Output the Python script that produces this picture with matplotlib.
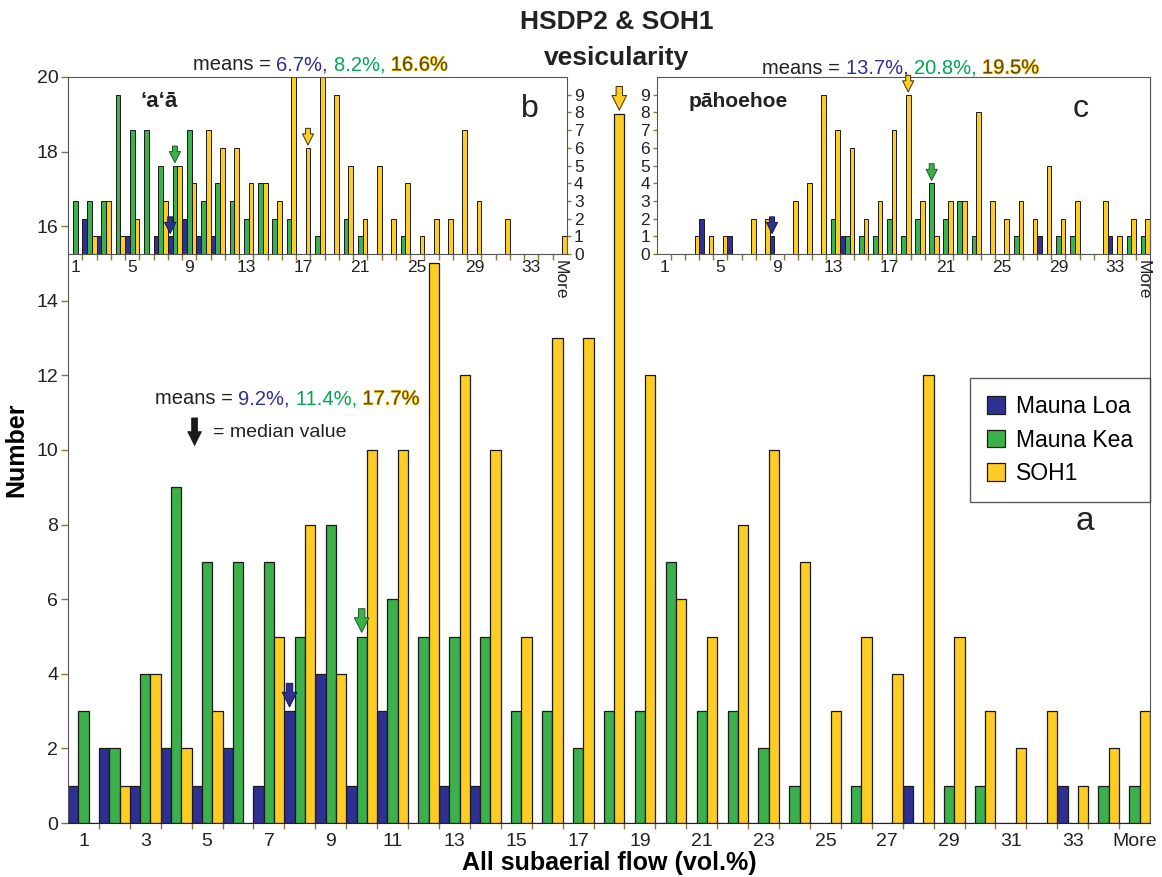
import matplotlib
matplotlib.use('Agg')
import numpy as np
import matplotlib.pyplot as plt
import matplotlib.patheffects as pe
from matplotlib.patches import Patch

plt.rcParams['font.family'] = ['Liberation Sans', 'DejaVu Sans']

# ---- data -------------------------------------------------------------
cats = [str(i) for i in range(1, 35)] + ['More']
series = ['Mauna Loa', 'Mauna Kea', 'SOH1']

# a: all subaerial flow
all_ml = [1, 2, 1, 2, 1, 2, 1, 3, 4, 1, 3, 0, 1, 1, 0, 0, 0, 0, 0, 0, 0, 0, 0, 0, 0,
          0, 0, 1, 0, 0, 0, 0, 1, 0, 0]
all_mk = [3, 2, 4, 9, 7, 7, 7, 5, 8, 5, 6, 5, 5, 5, 3, 3, 2, 3, 3, 7, 3, 3, 2, 1, 0,
          1, 0, 0, 1, 1, 0, 0, 0, 1, 1]
all_soh = [0, 1, 4, 2, 3, 0, 5, 8, 4, 10, 10, 15, 12, 10, 5, 13, 13, 19, 12, 6, 5, 8, 10, 7, 3,
           5, 4, 12, 5, 3, 2, 3, 1, 2, 3]

# b: 'a'a
aa_ml = [0, 2, 1, 0, 1, 0, 1, 1, 2, 1, 1, 0, 0, 0, 0, 0, 0, 0, 0, 0, 0, 0, 0, 0, 0,
         0, 0, 0, 0, 0, 0, 0, 0, 0, 0]
aa_mk = [3, 3, 3, 9, 7, 7, 5, 5, 7, 3, 4, 3, 2, 4, 2, 2, 0, 1, 0, 2, 1, 0, 0, 1, 0,
         0, 0, 0, 0, 0, 0, 0, 0, 0, 0]
aa_soh = [0, 1, 3, 1, 2, 0, 3, 5, 4, 7, 6, 6, 4, 4, 3, 10, 6, 10, 9, 5, 2, 5, 2, 4, 1,
          2, 2, 7, 3, 0, 2, 0, 0, 0, 1]

# c: pahoehoe
pah_ml = [0, 0, 0, 2, 0, 1, 0, 0, 1, 0, 0, 0, 0, 1, 0, 0, 0, 0, 0, 0, 0, 0, 0, 0, 0,
          0, 0, 1, 0, 0, 0, 0, 1, 0, 0]
pah_mk = [0, 0, 0, 0, 0, 0, 0, 0, 0, 0, 0, 0, 2, 1, 1, 1, 2, 1, 2, 4, 2, 3, 1, 0, 0,
          1, 0, 0, 1, 1, 0, 0, 0, 1, 1]
pah_soh = [0, 0, 1, 1, 1, 0, 2, 2, 0, 3, 4, 9, 7, 6, 2, 3, 7, 9, 3, 1, 3, 3, 8, 3, 2,
           3, 2, 5, 2, 3, 0, 3, 1, 2, 2]

# median bins (category number) for ML, MK, SOH
all_median = [8, 10, 18]
aa_median = [8, 8, 17]
pah_median = [9, 20, 18]

all_means = ['9.2%', '11.4%', '17.7%']
aa_means = ['6.7%', '8.2%', '16.6%']
pah_means = ['13.7%', '20.8%', '19.5%']

colors = ['#2e3192', '#3cb04a', '#fdcd23']
edge_cols = ['#15174a', '#1d5a25', '#3a3000']
text_cols = ['#2e3192', '#00a651', '#5e4a10']
tick_col = '#8a7440'

W, H = 1162, 877


def box(l, t, r, b):
    return [l / W, 1 - b / H, (r - l) / W, (b - t) / H]


def draw_bars(ax, ml, mk, soh, lw):
    x = np.arange(len(cats))
    w = 1 / 3
    for off, vals, col in zip((-w, 0, w), (ml, mk, soh), colors):
        ax.bar(x + off, vals, w, color=col, edgecolor='#1a1a1a', linewidth=lw, zorder=2)


def median_arrows(ax, medians, data, length, scale, gap):
    for i, (cat, vals) in enumerate(zip(medians, data)):
        x = cat - 1 + (i - 1) / 3
        ax.annotate('', xy=(x, vals[cat - 1]), xytext=(0, length), textcoords='offset points',
                    arrowprops=dict(arrowstyle='simple,head_length=0.5,head_width=0.5,tail_width=0.22',
                                    fc=colors[i], ec=edge_cols[i], lw=0.7,
                                    shrinkA=0, shrinkB=gap, mutation_scale=scale),
                    zorder=5)


def means_text(fig, x, y, means, size):
    t = fig.text(x, y, 'means = ', fontsize=size, color='#222222', va='center', ha='left')
    for i, m in enumerate(means):
        s = m + (', ' if i < 2 else '')
        t = fig.axes[0].annotate(s, xy=(1, 0), xycoords=t, va='bottom', ha='left',
                                 fontsize=size, color=text_cols[i], annotation_clip=False)
        if i == 2:
            t.set_path_effects([pe.withStroke(linewidth=1.0, foreground=colors[2])])


def setup_xaxis(ax, step, size, pad):
    ax.set_xlim(-0.5, len(cats) - 0.5)
    major = list(range(0, len(cats) - 1, step)) + [len(cats) - 1]
    ax.set_xticks(major)
    ax.set_xticklabels([cats[i] for i in major])
    ax.set_xticks(np.arange(0.5, len(cats) - 1, 1), minor=True)
    ax.tick_params(axis='x', which='major', length=0, labelsize=size, pad=pad, labelcolor='#222222')
    ax.tick_params(axis='x', which='minor', length=4, width=1, color=tick_col, direction='out')


fig = plt.figure(figsize=(W / 100, H / 100), dpi=100)

# ---- main panel a -----------------------------------------------------
ax = fig.add_axes(box(68, 77, 1150, 823))
draw_bars(ax, all_ml, all_mk, all_soh, 0.9)
setup_xaxis(ax, 2, 14, 7)
ax.set_ylim(0, 20)
ax.set_yticks(range(0, 21, 2))
ax.tick_params(axis='y', length=5, width=1, color=tick_col, labelsize=14, pad=2, labelcolor='#222222')
ax.spines['top'].set_visible(False)
for s in ('left', 'right', 'bottom'):
    ax.spines[s].set_color('#555555')
ax.spines['bottom'].set_color('#222222')
ax.set_ylabel('Number', fontsize=18, fontweight='bold', labelpad=6)
ax.set_xlabel('All subaerial flow (vol.%)', fontsize=18, fontweight='bold', labelpad=1)
median_arrows(ax, all_median, [all_ml, all_mk, all_soh], 20, 21, 3)

handles = [Patch(facecolor=c, edgecolor='#1a1a1a', lw=0.9, label=l) for c, l in zip(colors, series)]
leg = ax.legend(handles=handles, loc='upper right', bbox_to_anchor=(1.0, (823 - 378) / 746),
                borderaxespad=0, fontsize=16.5, frameon=True, fancybox=False,
                handlelength=0.8, handleheight=0.8, handletextpad=0.45,
                labelspacing=0.45, borderpad=0.75)
leg.get_frame().set_edgecolor('#333333')
leg.get_frame().set_linewidth(1.0)

ax.text((1085 - 68) / 1082, (823 - 522) / 746, 'a', transform=ax.transAxes, fontsize=24,
        ha='center', va='center', color='#222222')

ax.annotate('', xy=(0.117, 0.506), xycoords='axes fraction', xytext=(0.117, 0.543),
            arrowprops=dict(arrowstyle='simple,head_length=0.5,head_width=0.5,tail_width=0.22',
                            fc='#1a1a1a', ec='#1a1a1a', lw=0.5, shrinkA=0, shrinkB=0,
                            mutation_scale=20))
ax.text(0.134, 0.524, '= median value', transform=ax.transAxes, fontsize=14,
        va='center', ha='left', color='#222222')

# ---- inset b: 'a'a ----------------------------------------------------
axb = fig.add_axes(box(68, 77, 567, 254))
draw_bars(axb, aa_ml, aa_mk, aa_soh, 0.7)
setup_xaxis(axb, 4, 12.5, 4)
axb.get_xticklabels()[-1].set_rotation(-90)
axb.set_ylim(0, 10)
axb.set_yticks(range(0, 10))
axb.yaxis.tick_right()
axb.tick_params(axis='y', length=3, width=1, color=tick_col, labelsize=12.5, pad=2, labelcolor='#222222')
for s in axb.spines.values():
    s.set_color('#555555')
median_arrows(axb, aa_median, [aa_ml, aa_mk, aa_soh], 14, 16, 2)
axb.text(0.145, 0.86, '\u2018a\u2018\u0101', transform=axb.transAxes, fontsize=16,
         fontweight='bold', ha='left', va='center', color='#222222')
axb.text(0.925, 0.82, 'b', transform=axb.transAxes, fontsize=23, ha='center', va='center',
         color='#222222')

# ---- inset c: pahoehoe ------------------------------------------------
axc = fig.add_axes(box(657, 77, 1150, 254))
draw_bars(axc, pah_ml, pah_mk, pah_soh, 0.7)
setup_xaxis(axc, 4, 12.5, 4)
axc.get_xticklabels()[-1].set_rotation(-90)
axc.set_ylim(0, 10)
axc.set_yticks(range(0, 10))
axc.tick_params(axis='y', length=3, width=1, color=tick_col, labelsize=12.5, pad=2, labelcolor='#222222')
for s in axc.spines.values():
    s.set_color('#555555')
median_arrows(axc, pah_median, [pah_ml, pah_mk, pah_soh], 14, 16, 2)
axc.text(0.065, 0.86, 'p\u0101hoehoe', transform=axc.transAxes, fontsize=15,
         fontweight='bold', ha='left', va='center', color='#222222')
axc.text(0.86, 0.82, 'c', transform=axc.transAxes, fontsize=23, ha='center', va='center',
         color='#222222')

# ---- titles and means ---------------------------------------------------
fig.text(617 / W, 1 - 22 / H, 'HSDP2 & SOH1', fontsize=19, fontweight='bold',
         ha='center', va='center', color='#222222')
fig.text(617 / W, 1 - 58 / H, 'vesicularity', fontsize=19, fontweight='bold',
         ha='center', va='center', color='#222222')
means_text(fig, 193 / W, 1 - 65 / H, aa_means, 14.5)
means_text(fig, 762 / W, 1 - 68 / H, pah_means, 14.5)
means_text(fig, 155 / W, 1 - 399 / H, all_means, 14.5)

fig.savefig('out.png', dpi=100)
